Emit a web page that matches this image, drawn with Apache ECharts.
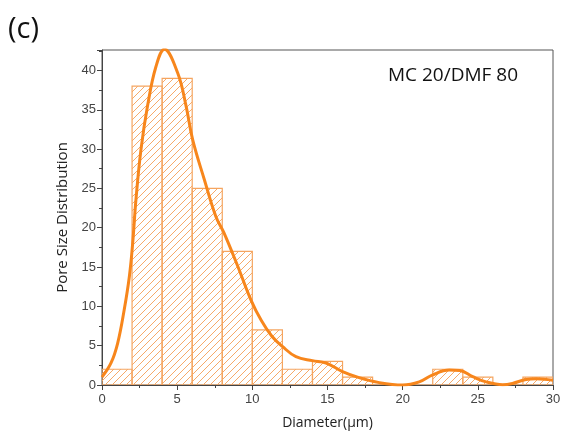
<!DOCTYPE html>
<html>
<head>
<meta charset="utf-8">
<script src="https://cdn.jsdelivr.net/npm/echarts@6/dist/echarts.min.js"></script>
<style>html,body{margin:0;padding:0;background:#fff;}#c{width:561px;height:432px;}</style>
</head>
<body>
<div id="c"></div>
<script>
// Histogram bins (µm) and counts
var binStart = [0, 2, 4, 6, 8, 10, 12, 14, 16, 18, 20, 22, 24, 26, 28];
var binEnd   = [2, 4, 6, 8, 10, 12, 14, 16, 18, 20, 22, 24, 26, 28, 30];
var counts   = [2, 38, 39, 25, 17, 7, 2, 3, 1, 0, 0, 2, 1, 0, 1];
// Fitted distribution curve
var curveX = [0, 0.6, 1.04, 1.48, 1.82, 2.04, 2.26, 2.59, 3.03, 3.59, 4.15, 5.03, 5.59, 6.03, 6.81, 7.58, 8.1, 9.03, 9.91, 10.6, 11.3, 12.0, 12.9, 14.0, 14.9, 16.0, 17.1, 18.45, 20.0, 21.1, 22.0, 23.1, 23.8, 24.66, 25.55, 26.65, 27.3, 28.2, 28.9, 30];
var curveY = [1.0, 2.8, 5.3, 9.6, 13.8, 18.0, 23.6, 29.9, 35.5, 40.5, 42.7, 39.7, 35.5, 31.2, 26.1, 21.4, 19.4, 15.1, 10.8, 8.2, 6.2, 4.9, 3.6, 3.1, 2.8, 1.7, 0.93, 0.3, 0.0, 0.4, 1.3, 1.9, 1.85, 1.06, 0.4, 0.04, 0.2, 0.7, 0.8, 0.6];
var xTicks = [0, 5, 10, 15, 20, 25, 30];
var yTicks = [0, 5, 10, 15, 20, 25, 30, 35, 40];

var histData = binStart.map(function (s, i) { return [s, binEnd[i], counts[i]]; });
var curveData = curveX.map(function (x, i) { return [x, curveY[i]]; });

// hatch pattern
var pc = document.createElement('canvas');
pc.width = 7; pc.height = 7;
var g = pc.getContext('2d');
g.strokeStyle = '#f6aa6a';
g.lineWidth = 1;
g.beginPath();
g.moveTo(-1, 8); g.lineTo(8, -1);
g.moveTo(-1, 1); g.lineTo(1, -1);
g.moveTo(6, 8); g.lineTo(8, 6);
g.stroke();

var chart = echarts.init(document.getElementById('c'));
var axisCol = '#444';
chart.setOption({
  animation: false,
  grid: { left: 102, right: 8, top: 50, bottom: 47, show: true, borderColor: '#555', borderWidth: 1, containLabel: false, outerBoundsMode: 'none' },
  xAxis: {
    type: 'value', min: 0, max: 30, interval: 5,
    name: 'Diameter(\u03bcm)', nameLocation: 'middle', nameGap: 31,
    nameTextStyle: { fontFamily: 'Open Sans', fontSize: 14, color: '#222' },
    axisLine: { show: true, onZero: false, lineStyle: { color: axisCol, width: 1 } },
    axisTick: { show: true, inside: false, length: 5, lineStyle: { color: axisCol } },
    minorTick: { show: true, splitNumber: 2, length: 3, lineStyle: { color: axisCol } },
    splitLine: { show: false },
    axisLabel: { fontFamily: 'Liberation Sans', fontSize: 13, color: '#444', margin: 8,
      formatter: function (v) { return xTicks.indexOf(v) >= 0 ? String(v) : ''; } }
  },
  yAxis: {
    type: 'value', min: 0, max: 42.6, interval: 5,
    name: 'Pore Size Distribution', nameLocation: 'middle', nameGap: 24,
    nameTextStyle: { fontFamily: 'Open Sans', fontSize: 15, color: '#222' },
    axisLine: { show: true, lineStyle: { color: axisCol, width: 1 } },
    axisTick: { show: true, inside: false, length: 5, lineStyle: { color: axisCol } },
    minorTick: { show: true, splitNumber: 2, length: 3, lineStyle: { color: axisCol } },
    splitLine: { show: false },
    axisLabel: { fontFamily: 'Liberation Sans', fontSize: 13, color: '#444', margin: 6, showMaxLabel: false,
      formatter: function (v) { return yTicks.indexOf(v) >= 0 ? String(v) : ''; } }
  },
  series: [
    {
      type: 'custom',
      data: histData,
      encode: { x: [0, 1], y: 2 },
      clip: true,
      renderItem: function (params, api) {
        var p0 = api.coord([api.value(0), api.value(2)]);
        var p1 = api.coord([api.value(1), 0]);
        return {
          type: 'rect',
          shape: { x: p0[0], y: p0[1], width: p1[0] - p0[0], height: p1[1] - p0[1] },
          style: { fill: { image: pc, repeat: 'repeat' }, stroke: '#f5a560', lineWidth: 1.2 }
        };
      }
    },
    {
      type: 'line',
      data: curveData,
      smooth: 0.4,
      symbol: 'none',
      clip: true,
      lineStyle: { color: '#f7861c', width: 3 }
    }
  ],
  graphic: [
    { type: 'text', left: 8, top: 15, style: { text: '(c)', fontFamily: 'Open Sans', fontSize: 29, fill: '#111' } },
    { type: 'text', left: 388, top: 66, style: { text: 'MC 20/DMF 80', fontFamily: 'Open Sans', fontSize: 19, fill: '#111' } }
  ]
});
</script>
</body>
</html>
